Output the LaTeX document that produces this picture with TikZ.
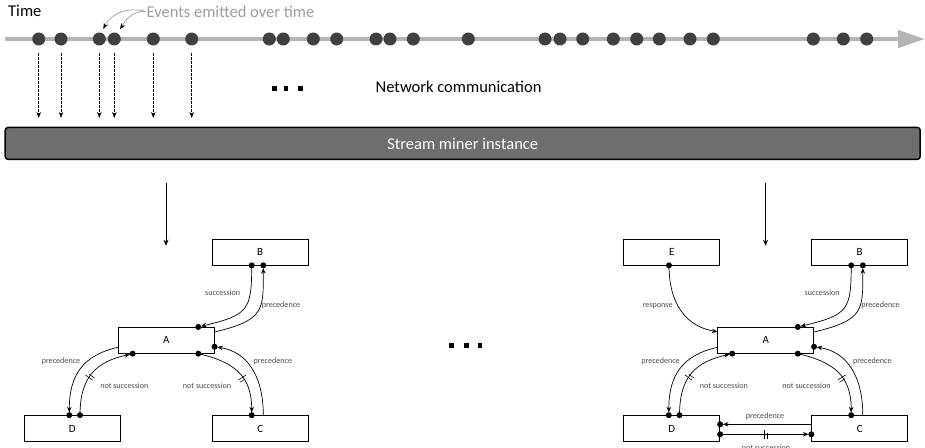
\documentclass[tikz,border=0pt]{standalone}
\usepackage{fontspec}
\setmainfont{Carlito}
\usetikzlibrary{arrows.meta,decorations.markings}
\definecolor{tlgray}{HTML}{B4B4B4}
\definecolor{evdark}{HTML}{404040}
\definecolor{minergray}{HTML}{6E6E6E}
\definecolor{evtext}{HTML}{9C9C9C}
\definecolor{lblgray}{HTML}{4A4A4A}
\begin{document}
\begin{tikzpicture}[x=1pt,y=-1pt,
  big/.style={font=\fontsize{16.5}{19}\selectfont},
  evdot/.style={circle,fill=evdark,inner sep=0pt,minimum size=13pt},
  dasharrow/.style={line width=0.6pt,dash pattern=on 2.5pt off 1.5pt,-{Stealth[length=6pt,width=4.5pt]}},
  actbox/.style={draw,line width=0.7pt,minimum width=96pt,minimum height=26pt,inner sep=0pt,font=\fontsize{11}{13}\selectfont},
  conn/.style={line width=0.7pt},
  conntip/.style={line width=0.7pt,-{Stealth[length=5.5pt,width=4.5pt]},shorten >=2.8pt},
  lbl/.style={font=\fontsize{8.1}{10}\selectfont,text=lblgray,inner sep=0pt},
  nsbar/.style={postaction={decorate,decoration={markings,mark=at position #1 with {\draw[line width=0.6pt,-] (-1.4pt,-4.5pt)--(-1.4pt,4.5pt) (1.4pt,-4.5pt)--(1.4pt,4.5pt);}}}},
]
\useasboundingbox (0,0) rectangle (925,447);

% timeline
\draw[tlgray,line width=4pt,-{Triangle[length=27pt,width=17pt]}] (5,39) -- (925,39);
\foreach \x [count=\i] in {38.7,61,99.3,114.3,153.3,191.7,269.3,283.3,313.3,336.7,376,390,413.3,468.3,545,560,582.7,613.3,636.7,659.3,690,713.3,813.3,843.3,866.7}
  \node[evdot] (d\i) at (\x,39) {};

\node[big,anchor=base west,inner sep=0pt] (time) at (8,16.7) {Time};
\node[big,anchor=base west,inner sep=0pt,text=evtext] (evt) at (146.5,17) {Events emitted over time};
\draw[evtext,line width=0.7pt,-{Stealth[length=6pt,width=4.5pt,black]}] ([xshift=-1pt]evt.west) .. controls +(-25,-6) and +(5,-10) .. ([shift={(4,-10)}]d3.center);
\draw[evtext,line width=0.7pt,-{Stealth[length=6pt,width=4.5pt,black]}] ([xshift=-1pt]evt.west) .. controls +(-15,0) and +(5,-8) .. ([shift={(5.7,-9.7)}]d4.center);

% stream miner box
\node[draw=black,line width=1.5pt,fill=minergray,rounded corners=3pt,minimum width=915pt,minimum height=32pt,inner sep=0pt,text=white,big] (miner) at (462.7,143.4) {Stream miner instance};

\foreach \i in {1,...,6}
  \draw[dasharrow,shorten <=7.5pt,shorten >=8.7pt] (d\i) -- (d\i |- miner.north);

\node[big,anchor=base west,inner sep=0pt] (net) at (375.5,92.7) {Network communication};

% ellipses
\foreach \x in {272,283.5,298} \fill (\x,85.5) rectangle +(4.5,5.5);
\foreach \x in {449,464,477.5} \fill (\x,342.5) rectangle +(4.5,5);

% arrows from miner
\coordinate (m1s) at (166,183); \coordinate (m1e) at (166,245.7);
\coordinate (m2s) at (765.6,183); \coordinate (m2e) at (765.6,245.7);
\draw[line width=0.7pt,-{Stealth[length=6pt,width=5pt]}] (m1s) -- (m1e);
\draw[line width=0.7pt,-{Stealth[length=6pt,width=5pt]}] (m2s) -- (m2e);

% graphs
\foreach \g/\dx in {1/0,2/599.5}{
  \node[actbox] (A\g) at (166.2+\dx,340.3) {A};
  \node[actbox] (B\g) at (260+\dx,252) {B};
  \node[actbox] (D\g) at (72.3+\dx,428.5) {D};
  \node[actbox] (C\g) at (260.2+\dx,428.5) {C};
  \coordinate (Bs\g) at ([xshift=-8.3pt]B\g.south);
  \coordinate (Bp\g) at ([xshift=3.3pt]B\g.south);
  \coordinate (At\g) at ([xshift=32.1pt]A\g.north);
  \coordinate (Aru\g) at ([yshift=8.3pt]A\g.east);
  \coordinate (Ard\g) at ([yshift=-6.4pt]A\g.east);
  \coordinate (Abl\g) at ([xshift=-33.5pt]A\g.south);
  \coordinate (Abr\g) at ([xshift=32.1pt]A\g.south);
  \coordinate (Al\g) at ([yshift=-7pt]A\g.west);
  \coordinate (Dl\g) at ([xshift=-3pt]D\g.north);
  \coordinate (Dr\g) at ([xshift=7.7pt]D\g.north);
  \coordinate (Cl\g) at ([xshift=-8.5pt]C\g.north);
  \coordinate (Cr\g) at ([xshift=3.1pt]C\g.north);
  \draw[conntip] (Bs\g) .. controls +(0,45) and +(50,-12) .. (At\g);
  \draw[conntip] (Aru\g) .. controls +(50,-12) and +(0,45) .. (Bp\g);
  \draw[conntip] (Al\g) .. controls +(-35,8) and +(0,-40) .. (Dl\g);
  \draw[conntip,nsbar=0.45] (Dr\g) .. controls +(0,-40) and +(-35,8) .. (Abl\g);
  \draw[conntip,nsbar=0.58] (Abr\g) .. controls +(35,8) and +(0,-40) .. (Cl\g);
  \draw[conntip] (Cr\g) .. controls +(0,-40) and +(32,5) .. (Ard\g);
  \foreach \p in {Bs,At,Bp,Ard,Dl,Dr,Abl,Abr,Cl}
    \fill (\p\g) circle[radius=3pt];
  \node[lbl] (ls\g) at (222.7+\dx,292.7) {succession};
  \node[lbl] (lpb\g) at (281+\dx,305.7) {precedence};
  \node[lbl] (lpl\g) at (61+\dx,361.7) {precedence};
  \node[lbl] (lnl\g) at (124.3+\dx,385.7) {not succession};
  \node[lbl] (lnr\g) at (207+\dx,385.7) {not succession};
  \node[lbl] (lpr\g) at (272.8+\dx,361.7) {precedence};
}

% right graph extras
\node[actbox] (E2) at (671.7,252) {E};
\coordinate (Es) at ([xshift=-2.7pt]E2.south);
\coordinate (Alu) at ([yshift=8.6pt]A2.west);
\draw[conn,-{Stealth[length=5.5pt,width=4.5pt]}] (Es) .. controls +(0,40) and +(-30,-5) .. (Alu);
\fill (Es) circle[radius=3pt];
\node[lbl] (lresp) at (657.7,305.7) {response};

\coordinate (Cw1) at ([yshift=4.2pt]C2.west);
\coordinate (Dw1) at ([yshift=4.2pt]D2.east);
\coordinate (Dw2) at ([yshift=-5.8pt]D2.east);
\coordinate (Cw2) at ([yshift=-5.8pt]C2.west);
\draw[conntip] (Cw1) -- (Dw1);
\draw[conntip,nsbar=0.5] (Dw2) -- (Cw2);
\foreach \p in {Dw1,Dw2,Cw2} \fill (\p) circle[radius=3pt];
\node[lbl] (lbp) at (765,416.7) {precedence};
\node[lbl,anchor=north] (lbn) at (766,444.5) {not succession};
\end{tikzpicture}
\end{document}
